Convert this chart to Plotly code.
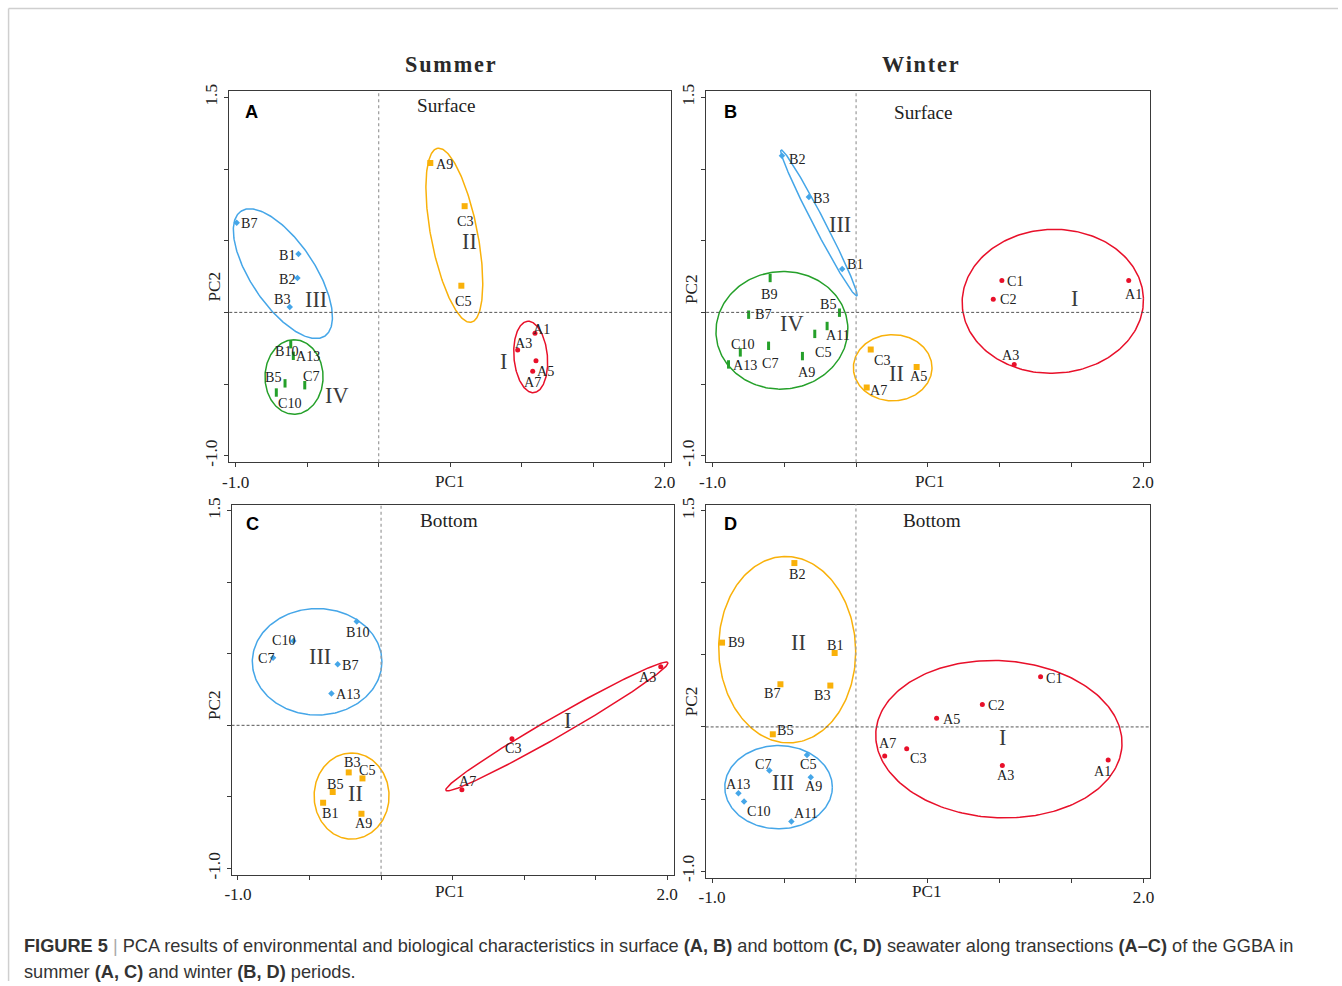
import numpy as np
import plotly.graph_objects as go
from plotly.subplots import make_subplots

# ---------------- Summer, surface (A) ----------------
A_I_site = ["A1", "A3", "A5", "A7"]
A_I_pc1 = [1.093, 0.972, 1.100, 1.077]
A_I_pc2 = [-0.145, -0.263, -0.338, -0.410]

A_II_site = ["A9", "C3", "C5"]
A_II_pc1 = [0.361, 0.601, 0.578]
A_II_pc2 = [1.042, 0.741, 0.186]

A_III_site = ["B7", "B1", "B2", "B3"]
A_III_pc1 = [-0.993, -0.561, -0.568, -0.622]
A_III_pc2 = [0.625, 0.408, 0.240, 0.037]

A_IV_site = ["B10", "A13", "B5", "C7", "C10"]
A_IV_pc1 = [-0.615, -0.597, -0.655, -0.517, -0.716]
A_IV_pc2 = [-0.222, -0.303, -0.495, -0.508, -0.559]

# ---------------- Winter, surface (B) ----------------
B_I_site = ["C1", "C2", "A1", "A3"]
B_I_pc1 = [1.016, 0.956, 1.900, 1.102]
B_I_pc2 = [0.222, 0.092, 0.222, -0.363]

B_II_site = ["C3", "A5", "A7"]
B_II_pc1 = [0.102, 0.422, 0.074]
B_II_pc2 = [-0.259, -0.381, -0.524]

B_III_site = ["B2", "B3", "B1"]
B_III_pc1 = [-0.517, -0.329, -0.097]
B_III_pc2 = [1.092, 0.804, 0.303]

B_IV_site = ["B9", "B7", "B5", "A11", "C5", "C7", "C10", "A9", "A13"]
B_IV_pc1 = [-0.599, -0.749, -0.116, -0.202, -0.288, -0.610, -0.807, -0.374, -0.889]
B_IV_pc2 = [0.240, -0.016, -0.002, -0.095, -0.150, -0.233, -0.279, -0.305, -0.363]

# ---------------- Summer, bottom (C) ----------------
C_I_site = ["A3", "C3", "A7"]
C_I_pc1 = [1.955, 0.915, 0.565]
C_I_pc2 = [0.410, -0.093, -0.450]

C_II_site = ["B3", "C5", "B5", "B1", "A9"]
C_II_pc1 = [-0.226, -0.130, -0.338, -0.405, -0.137]
C_II_pc2 = [-0.329, -0.371, -0.466, -0.541, -0.618]

C_III_site = ["B10", "C10", "C7", "B7", "A13"]
C_III_pc1 = [-0.170, -0.613, -0.755, -0.303, -0.347]
C_III_pc2 = [0.725, 0.590, 0.473, 0.427, 0.222]

# ---------------- Winter, bottom (D) ----------------
D_I_site = ["C1", "C2", "A5", "A7", "C3", "A3", "A1"]
D_I_pc1 = [1.284, 0.879, 0.561, 0.200, 0.353, 1.018, 1.754]
D_I_pc2 = [0.349, 0.155, 0.060, -0.201, -0.152, -0.268, -0.229]

D_II_site = ["B2", "B9", "B1", "B7", "B3", "B5"]
D_II_pc1 = [-0.428, -0.931, -0.148, -0.525, -0.178, -0.578]
D_II_pc2 = [1.137, 0.585, 0.513, 0.296, 0.287, -0.051]

D_III_site = ["C5", "C7", "A9", "A13", "C10", "A11"]
D_III_pc1 = [-0.340, -0.602, -0.314, -0.817, -0.778, -0.449]
D_III_pc2 = [-0.194, -0.303, -0.349, -0.460, -0.518, -0.656]

# axis ticks
pc1_ticks = [-1.0, -0.5, 0.0, 0.5, 1.0, 1.5, 2.0]
pc1_ticktext = ["-1.0", "", "", "", "", "", "2.0"]
pc2_ticks = [-1.0, -0.5, 0.0, 0.5, 1.0, 1.5]
pc2_ticktext = ["-1.0", "", "", "", "", "1.5"]

# ---------------- styling ----------------
W, H = 1342, 986
BODY_MARGIN = 8
# layout positions below are in display pixels; convert to figure pixels
SX = 1.0091
SY = 1.0132
FS = (SX + SY) / 2
SERIF = "Liberation Serif, Times New Roman, serif"
SANS = "Liberation Sans, Arial, sans-serif"

RED, ORANGE, BLUE, GREEN = "#E8102A", "#F9B10A", "#45A6E8", "#25A02A"
CLUSTER_STYLE = {
    "I": dict(color=RED, symbol="circle", size=5),
    "II": dict(color=ORANGE, symbol="square", size=6),
    "III": dict(color=BLUE, symbol="diamond", size=5),
    "IV": dict(color=GREEN, symbol="line-ns", size=6),
}

# site-label offsets from each point, in pixels (right, down)
A_I_off = [(6, -4), (6, -7), (9, 10), (0, 11)]
A_II_off = [(14, 1), (1, 15), (2, 15)]
A_III_off = [(13, 0), (-11, 1), (-10, 1), (-7, -8)]
A_IV_off = [(-4, 7), (15, 0), (-11, -6), (7, -9), (14, 10)]

B_I_off = [(14, 0), (15, 0), (5, 13), (-4, -9)]
B_II_off = [(12, 10), (2, 9), (12, 2)]
B_III_off = [(15, 3), (13, 1), (13, -5)]
B_IV_off = [(-1, 16), (15, -1), (-11, -9), (11, 9), (9, 18), (2, 17), (3, -8), (4, 16), (16, 1)]

C_I_off = [(-13, 10), (2, 9), (6, -9)]
C_II_off = [(4, -10), (5, -8), (3, -8), (7, 10), (2, 9)]
C_III_off = [(1, 10), (-9, -1), (-6, 0), (13, 1), (16, 0)]

D_I_off = [(14, 1), (14, 0), (15, 1), (3, -13), (12, 9), (3, 9), (-6, 11)]
D_II_off = [(3, 11), (14, -1), (1, -8), (-8, 9), (-8, 9), (13, -4)]
D_III_off = [(1, 9), (-6, -7), (3, 9), (0, -9), (15, 9), (15, -8)]

# cluster outlines: centre x, centre y, semi-major, semi-minor, rotation (deg)
A_outline = {"I": (1.063, -0.311, 0.250, 0.117, 95), "II": (0.529, 0.538, 0.618, 0.163, 101),
             "III": (-0.670, 0.270, 0.525, 0.222, 124), "IV": (-0.592, -0.451, 0.260, 0.203, 90)}
B_outline = {"I": (1.371, 0.077, 0.632, 0.502, 2), "II": (0.255, -0.386, 0.274, 0.231, 0),
             "III": (-0.259, 0.624, 0.573, 0.040, 117.4), "IV": (-0.517, -0.125, 0.460, 0.410, 5)}
C_outline = {"I": (1.229, -0.008, 0.895, 0.068, 29.9), "II": (-0.206, -0.494, 0.301, 0.262, 90),
             "III": (-0.447, 0.444, 0.453, 0.372, 0)}
D_outline = {"I": (0.994, -0.085, 0.857, 0.545, -3), "II": (-0.478, 0.536, 0.647, 0.476, 92),
             "III": (-0.538, -0.418, 0.374, 0.289, 0)}

# cluster numeral positions
A_numeral = {"I": (0.872, -0.345), "II": (0.638, 0.497), "III": (-0.44, 0.089), "IV": (-0.295, -0.578)}
B_numeral = {"I": (1.520, 0.095), "II": (0.283, -0.425), "III": (-0.111, 0.610), "IV": (-0.448, -0.079)}
C_numeral = {"I": (1.305, 0.035), "II": (-0.177, -0.476), "III": (-0.428, 0.480)}
D_numeral = {"I": (1.018, -0.076), "II": (-0.402, 0.587), "III": (-0.507, -0.388)}

fig = make_subplots(rows=2, cols=2)
ann = []


def ellipse_xy(cx, cy, a, b, ang):
    t = np.linspace(0, 2 * np.pi, 240)
    th = np.radians(ang)
    x = cx + a * np.cos(t) * np.cos(th) - b * np.sin(t) * np.sin(th)
    y = cy + a * np.cos(t) * np.sin(th) + b * np.sin(t) * np.cos(th)
    return x, y


def add_cluster(row, col, cluster, sites, pc1, pc2, offsets, outline):
    st = CLUSTER_STYLE[cluster]
    ex, ey = ellipse_xy(*outline[cluster])
    fig.add_trace(go.Scatter(x=ex, y=ey, mode="lines", line=dict(color=st["color"], width=1.5),
                             hoverinfo="skip", showlegend=False), row=row, col=col)
    if st["symbol"] == "line-ns":
        marker = dict(symbol="line-ns", size=st["size"], line=dict(color=st["color"], width=3))
    else:
        marker = dict(symbol=st["symbol"], size=st["size"], color=st["color"], line=dict(width=0))
    fig.add_trace(go.Scatter(x=pc1, y=pc2, mode="markers", marker=marker, cliponaxis=False,
                             hoverinfo="skip", showlegend=False), row=row, col=col)
    idx = (row - 1) * 2 + col
    sx = "" if idx == 1 else str(idx)
    for s, x, y, (dx, dy) in zip(sites, pc1, pc2, offsets):
        ann.append(dict(x=x, y=y, xref="x" + sx, yref="y" + sx, text=s, showarrow=False,
                        xshift=dx * SX, yshift=-dy * SY, xanchor="center", yanchor="middle",
                        font=dict(family=SERIF, size=14 * FS, color="#222")))


add_cluster(1, 1, "I", A_I_site, A_I_pc1, A_I_pc2, A_I_off, A_outline)
add_cluster(1, 1, "II", A_II_site, A_II_pc1, A_II_pc2, A_II_off, A_outline)
add_cluster(1, 1, "III", A_III_site, A_III_pc1, A_III_pc2, A_III_off, A_outline)
add_cluster(1, 1, "IV", A_IV_site, A_IV_pc1, A_IV_pc2, A_IV_off, A_outline)

add_cluster(1, 2, "I", B_I_site, B_I_pc1, B_I_pc2, B_I_off, B_outline)
add_cluster(1, 2, "II", B_II_site, B_II_pc1, B_II_pc2, B_II_off, B_outline)
add_cluster(1, 2, "III", B_III_site, B_III_pc1, B_III_pc2, B_III_off, B_outline)
add_cluster(1, 2, "IV", B_IV_site, B_IV_pc1, B_IV_pc2, B_IV_off, B_outline)

add_cluster(2, 1, "I", C_I_site, C_I_pc1, C_I_pc2, C_I_off, C_outline)
add_cluster(2, 1, "II", C_II_site, C_II_pc1, C_II_pc2, C_II_off, C_outline)
add_cluster(2, 1, "III", C_III_site, C_III_pc1, C_III_pc2, C_III_off, C_outline)

add_cluster(2, 2, "I", D_I_site, D_I_pc1, D_I_pc2, D_I_off, D_outline)
add_cluster(2, 2, "II", D_II_site, D_II_pc1, D_II_pc2, D_II_off, D_outline)
add_cluster(2, 2, "III", D_III_site, D_III_pc1, D_III_pc2, D_III_off, D_outline)


def px(x):
    # display pixel -> paper fraction
    return (x * SX - BODY_MARGIN) / W


def py(y):
    return 1 - (y * SY - BODY_MARGIN) / H


# panel frames in display pixels: left, right, top, bottom
frames = {
    (1, 1): (230, 671.5, 92, 462.7),
    (1, 2): (706.5, 1149.5, 92, 462.7),
    (2, 1): (232.3, 674, 505, 875),
    (2, 2): (706, 1150, 505, 877.7),
}

axis_common = dict(showline=True, linecolor="#3a3a3a", linewidth=1, mirror=True, showgrid=False,
                   zeroline=False, ticks="outside", ticklen=4, tickcolor="#3a3a3a", tickwidth=1,
                   tickfont=dict(family=SERIF, size=17 * FS, color="#222"))

layout_axes = {}
shapes = []
for i, ((r, c), (l, rr, t, b)) in enumerate(frames.items(), start=1):
    sx = "" if i == 1 else str(i)
    layout_axes["xaxis" + sx] = dict(axis_common, domain=[px(l), px(rr)], range=[-1.045, 2.045],
                                     tickvals=pc1_ticks, ticktext=pc1_ticktext, tickangle=0)
    layout_axes["yaxis" + sx] = dict(axis_common, domain=[py(b), py(t)], range=[-1.045, 1.543],
                                     tickvals=pc2_ticks, ticktext=pc2_ticktext, tickangle=-90)
    xr, yr = "x" + sx, "y" + sx
    shapes.append(dict(type="line", xref=xr, yref=yr + " domain", x0=0, x1=0, y0=0, y1=1,
                       line=dict(color="#9a9a9a", width=1.2, dash="dot")))
    shapes.append(dict(type="line", xref=xr + " domain", yref=yr, x0=0, x1=1, y0=0, y1=0,
                       line=dict(color="#555", width=1, dash="3px,2px")))

# page border
shapes.append(dict(type="line", xref="paper", yref="paper", x0=px(9.5), x1=1, y0=py(9.5), y1=py(9.5),
                   line=dict(color="#cfcfcf", width=1.5)))
shapes.append(dict(type="line", xref="paper", yref="paper", x0=px(9.5), x1=px(9.5), y0=py(9.5), y1=0,
                   line=dict(color="#cfcfcf", width=1.5)))

fig.update_layout(**layout_axes)


def text_px(x, y, s, size, family=SERIF, color="#222", angle=0, xanchor="center"):
    ann.append(dict(x=px(x), y=py(y), xref="paper", yref="paper", text=s, showarrow=False,
                    font=dict(family=family, size=size * FS, color=color), textangle=angle,
                    xanchor=xanchor, yanchor="middle"))


# column titles
text_px(452, 65, "<b><span style='letter-spacing:1.8px'>Summer</span></b>", 22, color="#2a2a2a")
text_px(921, 65, "<b><span style='letter-spacing:1.8px'>Winter</span></b>", 22, color="#2a2a2a")

# panel letters and layer names
for (x, y, s) in [(252, 113, "A"), (731, 113, "B"), (253, 524, "C"), (731, 524, "D")]:
    text_px(x, y, "<b>" + s + "</b>", 18, family=SANS, color="#000")
for (x, y, s) in [(447, 106, "Surface"), (924, 113, "Surface"), (450, 521, "Bottom"), (932, 521, "Bottom")]:
    text_px(x, y, s, 19)

# axis titles
for (x, y) in [(451, 482), (930, 482), (451, 892), (927, 892)]:
    text_px(x, y, "PC1", 17)
for (x, y) in [(215, 287), (692, 290), (215, 705), (692, 702)]:
    text_px(x, y, "PC2", 17, angle=-90)

# cluster numerals
for sx, numerals in [("", A_numeral), ("2", B_numeral), ("3", C_numeral), ("4", D_numeral)]:
    for k, (x, y) in numerals.items():
        ann.append(dict(x=x, y=y, xref="x" + sx, yref="y" + sx, text=k, showarrow=False,
                        font=dict(family=SERIF, size=22 * FS, color="#3a3a3a")))

# caption
cap1 = ("<b>FIGURE 5</b> <span style='color:#aaa'>|</span> PCA results of environmental and biological "
        "characteristics in surface <b>(A, B)</b> and bottom <b>(C, D)</b> seawater along transections "
        "<b>(A–C)</b> of the GGBA in")
cap2 = "summer <b>(A, C)</b> and winter <b>(B, D)</b> periods."
text_px(23, 946, cap1, 18, family=SANS, color="#333", xanchor="left")
text_px(23, 972, cap2, 18, family=SANS, color="#333", xanchor="left")

fig.update_layout(width=W, height=H, margin=dict(l=0, r=0, t=0, b=0),
                  paper_bgcolor="white", plot_bgcolor="white",
                  annotations=ann, shapes=shapes)

fig.write_html("out.html")
